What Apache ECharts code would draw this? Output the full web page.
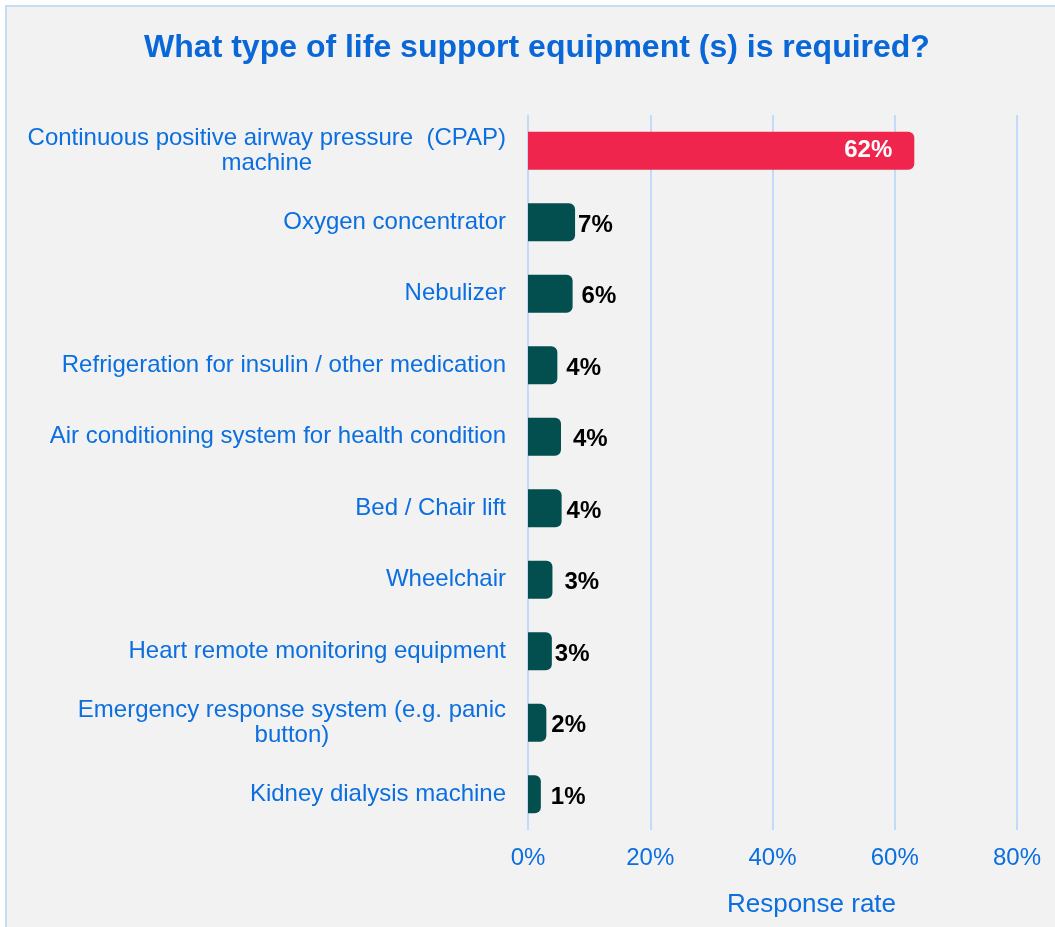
<!DOCTYPE html>
<html>
<head>
<meta charset="utf-8">
<script src="https://cdn.jsdelivr.net/npm/echarts@6/dist/echarts.min.js"></script>
<style>
  html, body { margin: 0; padding: 0; background: #ffffff; overflow: hidden; }
  .box {
    position: absolute;
    left: 5px;
    top: 5px;
    width: 1048px;
    height: 920px;
    border-left: 2px solid #c6ddf8;
    border-top: 2px solid #c6ddf8;
    background: #f2f2f2;
  }
  #chart { width: 1048px; height: 920px; }
</style>
</head>
<body>
<div class="box"><div id="chart"></div></div>
<script>
// 数据
var categories = [
  'Continuous positive airway pressure  (CPAP)\nmachine',
  'Oxygen concentrator',
  'Nebulizer',
  'Refrigeration for insulin / other medication',
  'Air conditioning system for health condition',
  'Bed / Chair lift',
  'Wheelchair',
  'Heart remote monitoring equipment',
  'Emergency response system (e.g. panic\nbutton)',
  'Kidney dialysis machine'
];
// bar lengths as drawn (percent)
var values = [63.2, 7.7, 7.3, 4.8, 5.4, 5.5, 4.0, 3.9, 3.0, 2.1];
// printed labels
var valueLabels = ['62%', '7%', '6%', '4%', '4%', '4%', '3%', '3%', '2%', '1%'];
var xTicks = [0, 20, 40, 60, 80];

var FONT = '"Liberation Sans", Arial, sans-serif';
var BLUE = '#0b6fe0';
// label gap from bar end (px), hand placed in the original
var labelGap = [22, 3, 9, 9, 12, 5, 12, 3, 5, 10];

var myChart = echarts.init(document.getElementById('chart'));

var barData = values.map(function (v, i) {
  var item = { value: v, label: { distance: labelGap[i] } };
  if (i === 0) {
    item.itemStyle = { color: '#f0254e' };
    item.label = { position: 'insideRight', distance: labelGap[i], color: '#ffffff', offset: [0, 0] };
  }
  return item;
});

var option = {
  backgroundColor: '#f2f2f2',
  animation: false,
  title: {
    text: 'What type of life support equipment (s) is required?',
    left: 530,
    top: 25,
    padding: 0,
    textAlign: 'center',
    textStyle: { color: '#0a67d8', fontSize: 32, fontWeight: 'bold', fontFamily: FONT }
  },
  grid: { left: 521, top: 108, width: 489, height: 715, containLabel: false },
  xAxis: {
    type: 'value',
    min: xTicks[0],
    max: xTicks[xTicks.length - 1],
    interval: 20,
    axisLine: { show: false },
    axisTick: { show: false },
    axisLabel: {
      formatter: '{value}%',
      color: BLUE,
      fontSize: 24,
      fontFamily: FONT,
      margin: 16
    },
    splitLine: { show: true, lineStyle: { color: '#c2dbfa', width: 2 } },
    name: 'Response rate',
    nameLocation: 'middle',
    nameGap: 62,
    nameTextStyle: { color: BLUE, fontSize: 26, fontFamily: FONT, padding: [0, 0, 0, 78] }
  },
  yAxis: {
    type: 'category',
    data: categories,
    inverse: true,
    axisLine: { show: false },
    axisTick: { show: false },
    splitLine: { show: false },
    axisLabel: {
      margin: 22,
      color: BLUE,
      fontSize: 24,
      fontFamily: FONT,
      formatter: function (v) {
        return v.split('\n').map(function (s) { return '{c|' + s + '}'; }).join('\n');
      },
      rich: {
        c: { align: 'center', color: BLUE, fontSize: 24, fontFamily: FONT, lineHeight: 25 }
      }
    }
  },
  series: [
    {
      type: 'bar',
      data: barData,
      barWidth: 38,
      itemStyle: { color: '#034f4f', borderRadius: [0, 6, 6, 0] },
      label: {
        show: true,
        position: 'right',
        offset: [0, 3],
        color: '#000000',
        fontSize: 24,
        fontWeight: 'bold',
        fontFamily: FONT,
        formatter: function (p) { return valueLabels[p.dataIndex]; }
      }
    }
  ]
};

myChart.setOption(option);
</script>
</body>
</html>
